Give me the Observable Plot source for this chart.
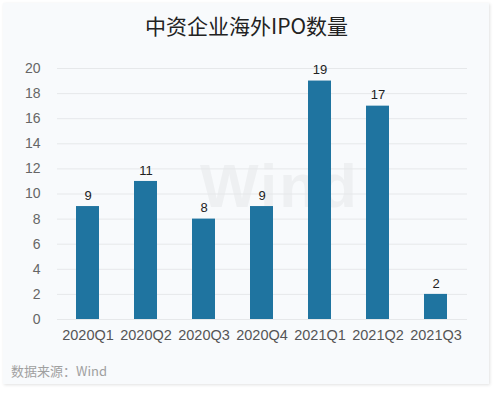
<!DOCTYPE html>
<html><head><meta charset="utf-8">
<script src="https://cdn.jsdelivr.net/npm/d3@7"></script>
<script src="https://cdn.jsdelivr.net/npm/@observablehq/plot@0.6"></script>
<style>
body{margin:0;background:#fff;font-family:"Liberation Sans",Arial,sans-serif;}
#card{position:absolute;left:3px;top:3px;width:486px;height:381px;background:#f8fafc;box-shadow:1px 1px 3px rgba(0,0,0,0.12);}
#title{position:absolute;left:0;top:10px;width:493px;text-align:center;font-family:"Noto Sans CJK SC",sans-serif;font-size:21px;color:#222;line-height:30px;}
#chart{position:absolute;left:0;top:45px;}
#cap{position:absolute;left:11px;top:362px;font-family:"Noto Sans CJK SC",sans-serif;font-size:13px;color:#a0a0a0;line-height:18px;}
#wm{position:absolute;left:200px;top:150px;font-family:"Liberation Sans",Arial,sans-serif;font-weight:bold;font-size:62px;color:#eef0f2;letter-spacing:2px;}
</style></head>
<body>
<div id="card"></div>
<div id="wm">Wind</div>
<div id="title">中资企业海外IPO数量</div>
<div id="chart"></div>
<div id="cap">数据来源：Wind</div>
<script>
const quarters = ["2020Q1","2020Q2","2020Q3","2020Q4","2021Q1","2021Q2","2021Q3"];
const counts = [9, 11, 8, 9, 19, 17, 2];
const yTicks = [0,2,4,6,8,10,12,14,16,18,20];

const data = quarters.map((q,i)=>({q, v: counts[i]}));

const chart = Plot.plot({
  width: 499,
  height: 305,
  marginLeft: 57,
  marginRight: 32,
  marginTop: 23,
  marginBottom: 31,
  style: {background: "transparent", fontFamily: "'Liberation Sans', Arial, sans-serif"},
  x: {domain: quarters, paddingInner: 0.6, paddingOuter: 0.3, label: null},
  y: {domain: [0, 20], label: null},
  marks: [
    Plot.ruleY(yTicks, {stroke: "#e6e8ea", strokeWidth: 1}),
    Plot.barY(data, {x: "q", y: "v", fill: "#1f74a0"}),
    Plot.text(data, {x: "q", y: "v", text: d => String(d.v), dy: -11, fontSize: 13, fill: "#222"}),
    Plot.axisX({tickSize: 0, tickPadding: 10, fontSize: 14.5, color: "#555", label: null}),
    Plot.axisY({ticks: yTicks, tickSize: 0, tickPadding: 17, fontSize: 14, color: "#666", label: null})
  ]
});
document.getElementById("chart").appendChild(chart);
</script>
</body></html>
